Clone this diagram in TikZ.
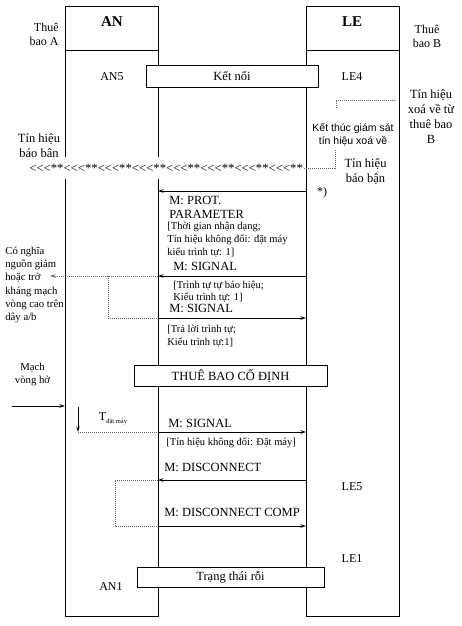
\documentclass[tikz,border=0pt]{standalone}
\usepackage{fontspec}
\setmainfont{Liberation Serif}
\setsansfont{Liberation Sans}
\usetikzlibrary{arrows.meta}
\newcommand\busygrp{<\kern0pt<\kern0pt<\kern0pt*\kern0pt*\kern0pt}
\begin{document}
\begin{tikzpicture}[x=1pt,y=-1pt, line width=0.75pt,
  lbl/.style={font=\fontsize{12}{14}\selectfont, inner sep=0pt, align=center},
  big/.style={font=\fontsize{12.5}{15}\selectfont, inner sep=0pt, align=center},
  mtxt/.style={font=\fontsize{12.5}{13.5}\selectfont, inner sep=0pt, align=left, anchor=west},
  small/.style={font=\fontsize{10.5}{13}\selectfont, inner sep=0pt, align=left, anchor=west},
  side/.style={font=\fontsize{10.7}{13.2}\selectfont, inner sep=0pt, align=left},
  msg/.style={-{Stealth[length=5.5pt,width=3.5pt]}, line width=0.8pt},
  dot/.style={black!60, line width=0.6pt, dash pattern=on 1pt off 1pt},
  dotarrow/.style={dot, -{Stealth[length=5.5pt,width=3.5pt]}},
  bar/.style={draw, fill=white, line width=0.8pt, font=\fontsize{12.5}{14}\selectfont, inner sep=0pt},
  col/.style={draw, line width=0.8pt, inner sep=0pt, anchor=north west, minimum width=93pt, minimum height=610pt},
]
\useasboundingbox[fill=white] (0,0) rectangle (461,626);

% columns
\node[col] (an) at (65,6) {};
\node[col] (le) at (306,6) {};
\draw[line width=0.8pt] (an.north west) ++(0,44) coordinate (anh1) -- (an.north east |- anh1);
\draw[line width=0.8pt] (le.north west) ++(0,44) coordinate (leh1) -- (le.north east |- leh1);

\node[font=\bfseries\fontsize{15}{17}\selectfont, inner sep=0pt] (anT) at (112,22) {AN};
\node[font=\bfseries\fontsize{15}{17}\selectfont, inner sep=0pt] (leT) at (352,22) {LE};

\node[lbl, align=right, anchor=east] (tbA) at (59,34) {Thuê\\bao A};
\node[lbl] (tbB) at (427,36) {Thuê\\bao B};

\node[lbl] (an5) at (112,77) {AN5};
\node[lbl] (le4) at (352,77) {LE4};
\node[bar, minimum width=172pt, minimum height=22pt] (ketnoi) at (232,76) {Kết nối};

% right side text
\node[big] (xoa) at (431,116.5) {Tín hiệu\\xoá về từ\\thuê bao\\B};
\node[font=\sffamily\fontsize{10.5}{13}\selectfont, inner sep=0pt, align=center] (ktgs) at (353,135) {Kết thúc giám sát\\tín hiệu xoá về};
\coordinate (k1) at (336,108);
\coordinate (k2) at (336,100);
\coordinate (k3) at (395,100);
\draw[dot] (k1) -- (k2) -- (k3);

% busy signal
\node[big] (bbL) at (39,147) {Tín hiệu\\báo bận};
\node[font=\fontsize{12.7}{14}\selectfont, fill=white, inner xsep=1pt, inner ysep=0pt, minimum height=22pt, anchor=west] (busy) at (28,168)
  {\busygrp\busygrp\busygrp\busygrp\busygrp\busygrp\busygrp\busygrp};
\coordinate (b1) at (335,168);
\coordinate (b2) at (335,150);
\draw[dot] (busy.east) -- (b1) -- (b2);
\node[big] (bbR) at (365.5,172) {Tín hiệu\\báo bận};
\node[lbl] (star) at (322,193) {*)};

% PROT PARAMETER
\coordinate (l1) at (306,191);
\coordinate (a1) at (158,191);
\draw[msg] (l1) -- (a1);
\node[mtxt] (prot) at (169,207.5) {M: PROT.\\PARAMETER};
\node[small] (protx) at (167,240) {[Thời gian nhận dạng;\\Tín hiệu không đổi: đặt máy\\kiểu trình tự: 1]};

% SIGNAL 1
\coordinate (l2) at (306,276);
\coordinate (a2) at (158,276);
\coordinate (o2) at (50,276);
\draw[msg] (l2) -- (a2);
\draw[dotarrow] (a2) -- (o2);
\node[mtxt] (sig1) at (173,266.5) {M: SIGNAL};
\node[small, font=\fontsize{10.5}{12.5}\selectfont] (sig1x) at (173,291.5) {[Trình tự tự báo hiệu;\\Kiểu trình tự: 1]};
\node[side, anchor=west] (cong) at (5,285) {Có nghĩa\\nguồn giảm\\hoặc trở\\kháng mạch\\vòng cao trên\\dây a/b};

% SIGNAL 2
\coordinate (d2) at (108,276);
\coordinate (d3) at (108,318);
\coordinate (a3) at (158,318);
\coordinate (l3) at (306,318);
\draw[dot] (d2) -- (d3) -- (a3);
\draw[msg] (a3) -- (l3);
\node[mtxt] (sig2) at (169,308.5) {M: SIGNAL};
\node[small] (sig2x) at (167,336.5) {[Trả lời trình tự;\\Kiểu trình tự:1]};

% THUE BAO CO DINH
\node[bar, minimum width=193pt, minimum height=21pt] (tbcd) at (230.5,375.5) {THUÊ BAO CỐ ĐỊNH};

\node[side, align=center] (mvh) at (32.5,374.5) {Mạch\\vòng hở};
\coordinate (m0) at (12,406);
\coordinate (m1) at (65,406);
\draw[msg] (m0) -- (m1);
\coordinate (t0) at (78,407);
\coordinate (t1) at (78,432);
\draw[msg] (t0) -- (t1);
\node[font=\fontsize{12}{14}\selectfont, inner sep=0pt] (tdat) at (113,419) {T\raisebox{-0.5ex}{\fontsize{6.5}{7}\selectfont đặt máy}};

% SIGNAL 3
\coordinate (a4) at (158,432);
\coordinate (l4) at (306,432);
\draw[dot] (t1) -- (a4);
\draw[msg] (a4) -- (l4);
\node[mtxt] (sig3) at (168,423) {M: SIGNAL};
\node[small] (sig3x) at (166,443) {[Tín hiệu không đổi: Đặt máy]};

% DISCONNECT
\coordinate (l5) at (306,480);
\coordinate (a5) at (158,480);
\draw[msg] (l5) -- (a5);
\node[mtxt] (disc) at (164,467) {M: DISCONNECT};
\coordinate (d5) at (115,480);
\coordinate (d6) at (115,526);
\coordinate (a6) at (158,526);
\coordinate (l6) at (306,526);
\draw[dot] (a5) -- (d5) -- (d6) -- (a6);
\draw[msg] (a6) -- (l6);
\node[mtxt] (discc) at (164,512) {M: DISCONNECT COMP};

\node[lbl] (le5) at (352,487) {LE5};
\node[lbl] (le1) at (352,559) {LE1};
\node[lbl] (an1) at (111,587) {AN1};
\node[bar, minimum width=187pt, minimum height=20pt] (idle) at (230.5,577) {Trạng thái rỗi};
\end{tikzpicture}
\end{document}
